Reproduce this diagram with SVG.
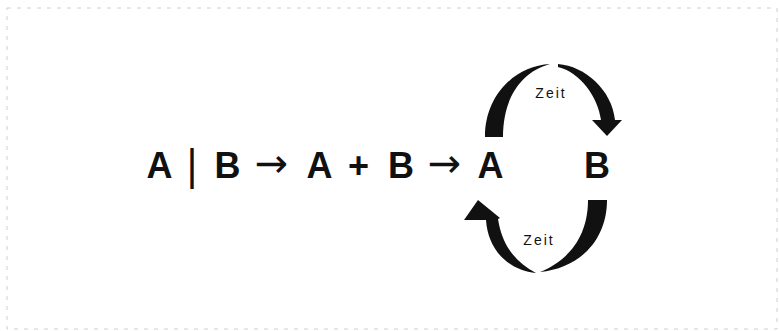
<svg xmlns="http://www.w3.org/2000/svg" width="779" height="331" viewBox="0 0 779 331">
<style>
.t{font-family:"Liberation Sans",Arial,sans-serif;font-weight:bold;font-size:36px;fill:#111;text-anchor:middle}
.ar{font-family:"DejaVu Sans",sans-serif;font-size:40px;fill:#111;text-anchor:middle}
.z{font-family:"Liberation Sans",Arial,sans-serif;font-size:14px;fill:#111;text-anchor:middle;letter-spacing:2px}
.c{fill:#111}
</style>
<rect x="7" y="8" width="770" height="321" fill="none" stroke="#d0d0d0" stroke-width="1" stroke-dasharray="4 6"/>
<g id="formula">
<text class="t" x="159.5" y="178">A</text>
<text class="ar" x="192" y="179">|</text>
<text class="t" x="227.5" y="178">B</text>
<text class="ar" x="271.5" y="177">→</text>
<text class="t" x="319.5" y="178">A</text>
<text class="t" x="358.5" y="178">+</text>
<text class="t" x="401" y="178">B</text>
<text class="ar" x="444.5" y="177">→</text>
</g>
<g id="nodeA"><text class="t" x="490.5" y="178">A</text></g>
<g id="nodeB"><text class="t" x="597" y="178">B</text></g>
<g id="connectors">
<g id="top-arc">
<path class="c" d="M485,137 C485,95 515,66 550,64 C521,72 503,98 503,137 Z"/>
<path class="c" d="M558,64 C585,66 612,90 615,120 L622,120 L607,136 L592,120 L601,120 C598,97 580,72 558,67 Z"/>
<text class="z" x="551" y="98">Zeit</text>
</g>
<g id="bottom-arc">
<path class="c" d="M607,200 C607,240 580,268 540,272 C565,262 588,240 588,200 Z"/>
<path class="c" d="M536,273 C508,270 488,250 486,220 L464,220 L478,200 L500,218 L498,219 C502,245 515,262 536,273 Z"/>
<text class="z" x="539" y="245">Zeit</text>
</g>
</g>
</svg>
